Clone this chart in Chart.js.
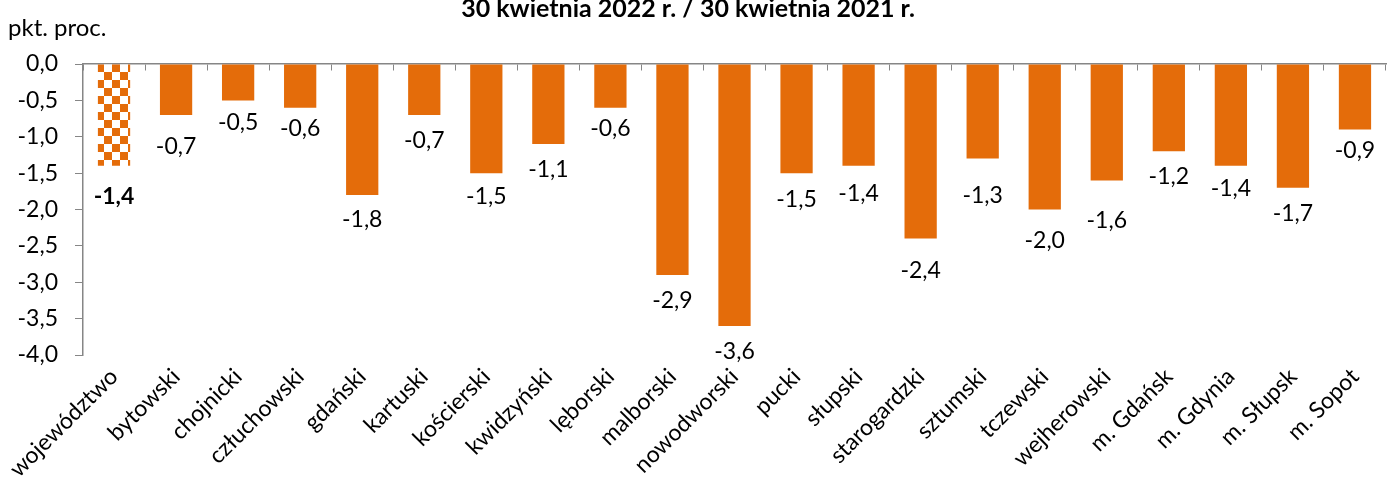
<!DOCTYPE html>
<html>
<head>
<meta charset="utf-8">
<script src="https://cdn.jsdelivr.net/npm/chart.js@4"></script>
<style>
  body { margin: 0; background: #fff; }
  #wrap { width: 1388px; height: 481px; position: relative; }
</style>
</head>
<body>
<div id="wrap"><canvas id="myChart"></canvas></div>
<script>
// DATA
const categories = ['województwo', 'bytowski', 'chojnicki', 'człuchowski', 'gdański', 'kartuski',
  'kościerski', 'kwidzyński', 'lęborski', 'malborski', 'nowodworski', 'pucki', 'słupski',
  'starogardzki', 'sztumski', 'tczewski', 'wejherowski', 'm. Gdańsk', 'm. Gdynia', 'm. Słupsk', 'm. Sopot'];
const values = [-1.4, -0.7, -0.5, -0.6, -1.8, -0.7, -1.5, -1.1, -0.6, -2.9, -3.6,
  -1.5, -1.4, -2.4, -1.3, -2.0, -1.6, -1.2, -1.4, -1.7, -0.9];
const yTicks = [0, -0.5, -1, -1.5, -2, -2.5, -3, -3.5, -4];
const titleText = '30 kwietnia 2022 r. / 30 kwietnia 2021 r.';
const unitText = 'pkt. proc.';

const FONT = 'Lato';
const ORANGE = '#E46C0A';
const GRAY = '#868686';
// distance of each value label below its bar end (px), as placed in the original
const labelGap = [31, 32, 22, 21, 25, 26, 23, 26, 21, 26, 26, 26, 28, 32, 37, 31, 40, 25, 23, 26, 21];

// checker pattern for the first bar
function checker() {
  const c = document.createElement('canvas');
  c.width = 16; c.height = 16;
  const g = c.getContext('2d');
  g.fillStyle = '#fff';
  g.fillRect(0, 0, 16, 16);
  g.fillStyle = ORANGE;
  g.fillRect(0, 0, 8, 8);
  g.fillRect(8, 8, 8, 8);
  return g.createPattern(c, 'repeat');
}
const pat = checker();
const colors = values.map((v, i) => i === 0 ? pat : ORANGE);

function fmt(v) {
  return v.toFixed(1).replace('.', ',');
}

// texts: title, unit, value labels
const textPlugin = {
  id: 'texts',
  afterDatasetsDraw(chart) {
    const ctx = chart.ctx;
    ctx.save();
    ctx.fillStyle = '#000';
    ctx.textAlign = 'center';
    ctx.textBaseline = 'alphabetic';
    ctx.font = 'bold 25px ' + FONT;
    ctx.fillText(titleText, 688, 17);
    ctx.textAlign = 'left';
    ctx.textBaseline = 'middle';
    ctx.font = '24px ' + FONT;
    ctx.fillText(unitText, 8, 28);

    const meta = chart.getDatasetMeta(0);
    ctx.textAlign = 'center';
    meta.data.forEach((bar, i) => {
      ctx.font = (i === 0 ? 'bold ' : '') + '23px ' + FONT;
      ctx.fillText(fmt(values[i]), bar.x, bar.y + labelGap[i]);
    });
    ctx.restore();
  }
};

const data = {
  labels: categories,
  datasets: [{
    data: values,
    backgroundColor: colors,
    borderWidth: 0,
    categoryPercentage: 1,
    barPercentage: 0.52
  }]
};

const config = {
  type: 'bar',
  data,
  options: {
    responsive: true,
    maintainAspectRatio: false,
    animation: false,
    layout: { padding: { top: 64, right: 2, left: 0, bottom: 0 } },
    plugins: {
      legend: { display: false },
      tooltip: { enabled: false }
    },
    scales: {
      x: {
        grid: { display: false, drawTicks: false },
        border: { display: false },
        afterFit(scale) {
          scale.paddingLeft = 0;
          scale.paddingRight = 0;
          scale.height = 126;
        },
        ticks: {
          minRotation: 45, maxRotation: 45,
          padding: 8,
          color: '#000',
          font: { family: FONT, size: 23 }
        }
      },
      x2: {
        type: 'category',
        labels: categories,
        offset: true,
        position: { y: 0 },
        grid: { offset: true, drawOnChartArea: false, tickLength: 6, color: GRAY },
        border: { display: true, color: GRAY, width: 1.5 },
        ticks: { display: false }
      },
      y: {
        min: -4, max: 0,
        afterBuildTicks(scale) {
          scale.ticks = yTicks.map(v => ({ value: v }));
        },
        afterFit(scale) {
          scale.width = 83;
        },
        grid: { drawOnChartArea: false, tickLength: 8, color: GRAY },
        border: { color: GRAY, width: 1.5 },
        ticks: {
          padding: 17,
          color: '#000',
          font: { family: FONT, size: 23 },
          callback: v => fmt(v)
        }
      }
    }
  },
  plugins: [textPlugin]
};

//RENDER
let myChart = new Chart(document.getElementById('myChart'), config);
</script>
</body>
</html>
